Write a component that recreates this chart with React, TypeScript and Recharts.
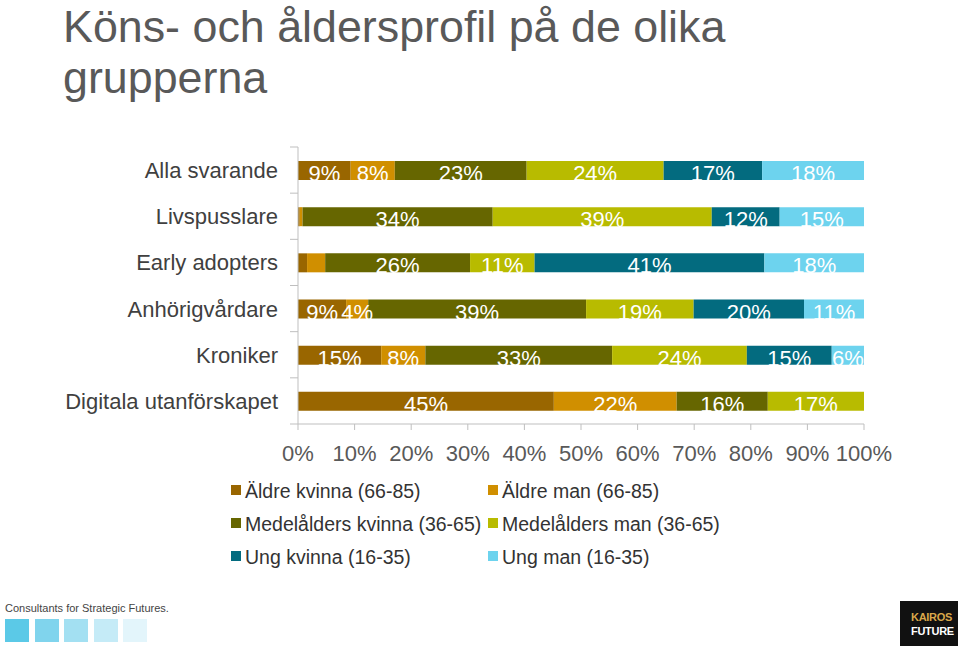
import { Bar, BarChart, LabelList, XAxis, YAxis } from 'recharts';

const groups = ['Alla svarande', 'Livspusslare', 'Early adopters', 'Anhörigvårdare', 'Kroniker', 'Digitala utanförskapet'];
const series = ['Äldre kvinna (66-85)', 'Äldre man (66-85)', 'Medelålders kvinna (36-65)', 'Medelålders man (36-65)', 'Ung kvinna (16-35)', 'Ung man (16-35)'];
const colors = ['#996600', '#d08f00', '#666600', '#b8bb00', '#036b7f', '#6dd3ee'];

// percent per group, one array per series
const aldreKvinna = [9.3, 0.3, 1.6, 8.5, 14.7, 45.2];
const aldreMan = [7.8, 0.5, 3.2, 3.9, 7.8, 21.7];
const medelKvinna = [23.3, 33.6, 25.6, 38.5, 33.0, 16.1];
const medelMan = [24.2, 38.7, 11.4, 19.0, 23.8, 17.0];
const ungKvinna = [17.4, 12.0, 40.6, 19.5, 15.0, 0];
const ungMan = [18.0, 14.9, 17.6, 10.6, 5.7, 0];
const xTicks = [0, 10, 20, 30, 40, 50, 60, 70, 80, 90, 100];

const seriesValues = [aldreKvinna, aldreMan, medelKvinna, medelMan, ungKvinna, ungMan];
const data = groups.map((name, i) => {
  const row: Record<string, string | number> = { name };
  seriesValues.forEach((vals, s) => { row['s' + s] = vals[i]; });
  return row;
});

const FONT = 'Arial, "Liberation Sans", sans-serif';
const TOP = 147;
const BOTTOM = 424;
const BAND = (BOTTOM - TOP) / groups.length;

const CategoryTick = (props: any) => {
  const { x, y, payload, index } = props;
  const ax = x + 20;
  return (
    <g>
      <text x={x} y={y + 8} textAnchor="end" fontSize={22} fill="#404040" fontFamily={FONT}>
        {payload.value}
      </text>
      <line x1={ax - 8} x2={ax} y1={y - BAND / 2} y2={y - BAND / 2} stroke="#bfbfbf" />
      {index === groups.length - 1 && (
        <line x1={ax - 8} x2={ax} y1={y + BAND / 2} y2={y + BAND / 2} stroke="#bfbfbf" />
      )}
    </g>
  );
};

const renderLabel = (props: any) => {
  const { x, y, width, height, value } = props;
  if (!value || value < 3.5) return null;
  return (
    <text
      x={x + width / 2}
      y={y + height + 1}
      textAnchor="middle"
      fontSize={22}
      fill="#ffffff"
      fontFamily={FONT}
    >
      {Math.round(value)}%
    </text>
  );
};

const titleStyle = { position: 'absolute' as const, left: 63, fontSize: 44.8, lineHeight: '52px', color: '#595959', whiteSpace: 'nowrap' as const };

const App = () => {
  return (
    <div style={{ position: 'absolute', left: 0, top: 0, width: 960, height: 646, background: '#fff', fontFamily: FONT }}>
      <div style={{ ...titleStyle, top: 0 }}>Köns- och åldersprofil på de olika</div>
      <div style={{ ...titleStyle, top: 51 }}>grupperna</div>

      <BarChart
        width={960}
        height={646}
        data={data}
        layout="vertical"
        barSize={19}
        margin={{ top: TOP, right: 96, left: 0, bottom: 646 - BOTTOM - 40 }}
      >
        <XAxis
          type="number"
          domain={[0, 100]}
          ticks={xTicks}
          interval={0}
          height={40}
          tickFormatter={(v) => `${v}%`}
          tick={{ fontSize: 22, fill: '#595959', fontFamily: FONT }}
          axisLine={{ stroke: '#bfbfbf' }}
          tickLine={{ stroke: '#bfbfbf' }}
          tickSize={6}
          tickMargin={15}
        />
        <YAxis
          type="category"
          dataKey="name"
          width={298}
          axisLine={{ stroke: '#bfbfbf' }}
          tickLine={false}
          tickSize={8}
          tickMargin={12}
          tick={<CategoryTick />}
          interval={0}
        />
        {series.map((s, i) => (
          <Bar key={s} dataKey={'s' + i} name={s} stackId="a" fill={colors[i]} isAnimationActive={false}>
            <LabelList dataKey={'s' + i} content={renderLabel} />
          </Bar>
        ))}
      </BarChart>

      <div
        style={{
          position: 'absolute',
          left: 231,
          top: 479,
          display: 'grid',
          gridTemplateColumns: '257px 260px',
          rowGap: 8,
          fontSize: 19.5,
          color: '#333',
        }}
      >
        {series.map((s, i) => (
          <div key={s} style={{ display: 'flex', alignItems: 'center', height: 25, whiteSpace: 'nowrap' }}>
            <span style={{ width: 10, height: 10, background: colors[i], marginRight: 4, marginTop: -4 }} />
            {s}
          </div>
        ))}
      </div>

      <div style={{ position: 'absolute', left: 5, top: 602, fontSize: 11, color: '#444' }}>
        Consultants for Strategic Futures.
      </div>
      {['#5bc9e7', '#80d4ed', '#a3e0f2', '#c5ebf7', '#e3f5fb'].map((c, i) => (
        <div key={c} style={{ position: 'absolute', left: 5 + i * 29.5, top: 619, width: 24, height: 23, background: c }} />
      ))}
      <div
        style={{
          position: 'absolute',
          left: 900,
          top: 601,
          width: 58,
          height: 45,
          background: '#111',
          display: 'flex',
          flexDirection: 'column',
          justifyContent: 'center',
          paddingLeft: 11,
          boxSizing: 'border-box',
          fontSize: 11,
          fontWeight: 'bold',
          lineHeight: '14px',
          letterSpacing: -0.3,
        }}
      >
        <span style={{ color: '#d9a84a' }}>KAIROS</span>
        <span style={{ color: '#fff' }}>FUTURE</span>
      </div>
    </div>
  );
};

export default App;
